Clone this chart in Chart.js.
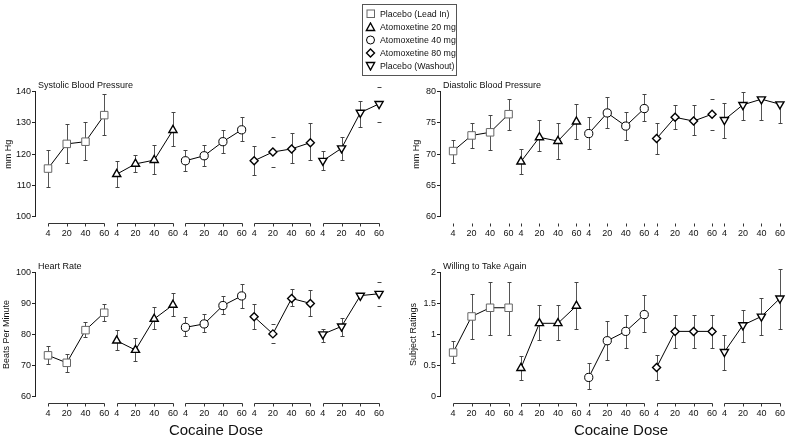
<!DOCTYPE html>
<html>
<head>
<meta charset="utf-8">
<script src="https://cdn.jsdelivr.net/npm/chart.js@4"></script>
<style>
  html, body { margin: 0; padding: 0; background: #fff; }
  body { width: 796px; height: 438px; position: relative; overflow: hidden; font-family: "Liberation Sans", Arial, sans-serif; }
  canvas { position: absolute; }
  #legend { position: absolute; left: 362px; top: 4px; width: 95px; height: 72px; border: 1px solid #555; box-sizing: border-box; }
  .li { position: absolute; left: 2px; height: 12px; font-size: 8.8px; color: #111; line-height: 12px; white-space: nowrap; }
  .li svg { position: absolute; left: 0; top: 1px; }
  .li span { position: absolute; left: 15px; top: 0; }
  .xt { position: absolute; font-size: 15px; color: #111; transform: translate(-50%, -50%); white-space: nowrap; }
</style>
</head>
<body>
<canvas id="c1" width="400" height="190" style="left:0;top:60px"></canvas>
<canvas id="c2" width="396" height="190" style="left:400px;top:60px"></canvas>
<canvas id="c3" width="400" height="198" style="left:0;top:240px"></canvas>
<canvas id="c4" width="396" height="198" style="left:400px;top:240px"></canvas>

<div id="legend">
  <div class="li" style="top:3px"><svg width="12" height="10"><rect x="2" y="1" width="7.5" height="7.5" fill="#fff" stroke="#666" stroke-width="1"/></svg><span>Placebo (Lead In)</span></div>
  <div class="li" style="top:16px"><svg width="12" height="10"><polygon points="5.5,1 9.6,8.5 1.4,8.5" fill="#fff" stroke="#000" stroke-width="1.4"/></svg><span>Atomoxetine 20 mg</span></div>
  <div class="li" style="top:29px"><svg width="12" height="10"><circle cx="5.5" cy="5" r="4" fill="#fff" stroke="#000" stroke-width="1"/></svg><span>Atomoxetine 40 mg</span></div>
  <div class="li" style="top:42px"><svg width="12" height="10"><polygon points="5.5,1 9.5,5 5.5,9 1.5,5" fill="#fff" stroke="#000" stroke-width="1.4"/></svg><span>Atomoxetine 80 mg</span></div>
  <div class="li" style="top:55px"><svg width="12" height="10"><polygon points="1.4,1.5 9.6,1.5 5.5,9" fill="#fff" stroke="#000" stroke-width="1.4"/></svg><span>Placebo (Washout)</span></div>
</div>

<div class="xt" style="left:216px;top:429px">Cocaine Dose</div>
<div class="xt" style="left:621px;top:429px">Cocaine Dose</div>

<script>
// ---------- data ----------
const groups = ['Placebo (Lead In)', 'Atomoxetine 20 mg', 'Atomoxetine 40 mg', 'Atomoxetine 80 mg', 'Placebo (Washout)'];
const doses = ['4', '20', '40', '60'];

const systolic   = [115.4, 123.3, 124.0, 132.5, 113.6, 116.9, 118.1, 127.7, 117.9, 119.5, 124.0, 127.8, 117.9, 120.7, 121.7, 123.7, 117.9, 121.9, 133.3, 136.1];
const systolicHi = [121.3, 129.6, 130.4, 139.2, 117.8, 119.7, 123.0, 133.4, 121.2, 123.0, 127.7, 131.8, 122.6, 125.6, 126.7, 129.9, 121.0, 125.6, 137.1, 141.6];
const systolicLo = [109.6, 117.1, 118.1, 126.0, 109.6, 114.3, 113.6, 122.6, 114.6, 116.3, 120.5, 124.2, 113.2, 115.9, 117.1, 118.1, 115.0, 118.1, 128.6, 130.4];

const diastolic   = [70.5, 73.0, 73.5, 76.4, 68.8, 72.7, 72.1, 75.2, 73.3, 76.6, 74.5, 77.3, 72.5, 75.9, 75.3, 76.4, 75.5, 77.9, 78.8, 78.0];
const diastolicHi = [72.3, 75.0, 76.2, 78.8, 70.9, 75.4, 75.0, 78.1, 75.9, 79.1, 76.7, 79.7, 75.0, 77.9, 77.9, 78.9, 78.2, 79.9, 78.8, 78.0];
const diastolicLo = [68.6, 71.0, 70.7, 73.9, 66.9, 70.5, 69.2, 72.4, 70.9, 74.2, 72.3, 75.3, 70.1, 74.0, 73.0, 73.9, 72.6, 75.4, 75.4, 75.0];

const heartRate   = [73.3, 70.9, 81.4, 87.0, 78.0, 75.0, 85.0, 89.5, 82.3, 83.4, 89.3, 92.4, 85.7, 80.2, 91.6, 90.0, 80.1, 82.6, 92.5, 93.1];
const heartRateHi = [76.4, 73.7, 84.1, 89.7, 81.3, 78.8, 88.8, 93.2, 85.6, 86.5, 92.3, 96.1, 89.7, 83.3, 94.5, 94.3, 81.9, 85.4, 92.5, 96.9];
const heartRateLo = [70.4, 67.9, 79.3, 84.3, 75.0, 71.6, 81.9, 86.0, 79.5, 80.7, 86.5, 88.5, 81.9, 77.2, 89.2, 86.0, 77.6, 79.5, 92.5, 89.2];

const willing   = [0.71, 1.29, 1.43, 1.43, 0.46, 1.18, 1.18, 1.46, 0.31, 0.90, 1.05, 1.32, 0.47, 1.05, 1.05, 1.05, 0.72, 1.15, 1.29, 1.58];
const willingHi = [0.90, 1.65, 1.85, 1.85, 0.66, 1.47, 1.47, 1.84, 0.54, 1.21, 1.31, 1.63, 0.67, 1.31, 1.31, 1.31, 1.00, 1.40, 1.58, 2.06];
const willingLo = [0.54, 0.92, 1.00, 1.00, 0.27, 0.91, 0.91, 1.09, 0.12, 0.59, 0.78, 1.04, 0.27, 0.78, 0.78, 0.78, 0.43, 0.88, 1.00, 1.09];

// error bars drawn with caps only (bar hidden) in the original
const systolicCapsOnly = [13, 19];
const diastolicCapsOnly = [15];
const heartRateCapsOnly = [13, 19];
const willingCapsOnly = [];

// ---------- layout helpers ----------
const GROUP_PITCH = 11 / 3;
const xPos = [];
groups.forEach((g, gi) => doses.forEach((d, di) => xPos.push(gi * GROUP_PITCH + di)));

const markerStyles = [
  { pointStyle: 'rect', radius: 5.3, rotation: 0, border: '#666', bw: 1 },
  { pointStyle: 'triangle', radius: 4.7, rotation: 0, border: '#000', bw: 1.4 },
  { pointStyle: 'circle', radius: 4.1, rotation: 0, border: '#000', bw: 1 },
  { pointStyle: 'rectRot', radius: 4.0, rotation: 0, border: '#000', bw: 1.4 },
  { pointStyle: 'triangle', radius: 4.7, rotation: 180, border: '#000', bw: 1.4 }
];

Chart.defaults.font.family = '"Liberation Sans", Arial, sans-serif';
Chart.defaults.color = '#111';

function makePanel(id, cfg) {
  const canvas = document.getElementById(id);
  const W = canvas.width, H = canvas.height;
  const datasets = groups.map((g, gi) => {
    const m = markerStyles[gi];
    return {
      label: g,
      data: doses.map((d, di) => ({ x: xPos[gi * 4 + di], y: cfg.values[gi * 4 + di] })),
      borderColor: '#000',
      borderWidth: 1,
      pointStyle: m.pointStyle,
      pointRadius: m.radius,
      pointRotation: m.rotation,
      pointBackgroundColor: '#fff',
      pointBorderColor: m.border,
      pointBorderWidth: m.bw,
      tension: 0,
      clip: false
    };
  });

  const plugin = {
    id: 'panelDeco',
    beforeDatasetsDraw(chart) {
      const { ctx, scales: { x, y } } = chart;
      ctx.save();
      ctx.lineWidth = 1;
      for (let k = 0; k < cfg.values.length; k++) {
        const px = Math.round(x.getPixelForValue(xPos[k])) + 0.5;
        const yv = y.getPixelForValue(cfg.values[k]);
        const yh = Math.round(y.getPixelForValue(cfg.hi[k])) + 0.5;
        const yl = Math.round(y.getPixelForValue(cfg.lo[k])) + 0.5;
        const capsOnly = cfg.capsOnly.includes(k);
        if (!capsOnly) {
          ctx.strokeStyle = '#555';
          ctx.beginPath();
          if (cfg.hi[k] > cfg.values[k]) { ctx.moveTo(px, yh); ctx.lineTo(px, yv); }
          if (cfg.lo[k] < cfg.values[k]) { ctx.moveTo(px, yv); ctx.lineTo(px, yl); }
          ctx.stroke();
        }
        ctx.strokeStyle = '#444';
        ctx.beginPath();
        if (cfg.hi[k] > cfg.values[k]) { ctx.moveTo(px - 2, yh); ctx.lineTo(px + 2, yh); }
        if (cfg.lo[k] < cfg.values[k]) { ctx.moveTo(px - 2, yl); ctx.lineTo(px + 2, yl); }
        ctx.stroke();
      }
      ctx.restore();
    },
    afterDraw(chart) {
      const { ctx, chartArea, scales: { x } } = chart;
      ctx.save();
      // group axes under each treatment
      const ly = Math.round(chartArea.bottom + 6.5) + 0.5;
      ctx.strokeStyle = '#333';
      ctx.lineWidth = 1;
      ctx.beginPath();
      groups.forEach((g, gi) => {
        const x0 = Math.round(x.getPixelForValue(xPos[gi * 4])) + 0.5;
        const x1 = Math.round(x.getPixelForValue(xPos[gi * 4 + 3])) + 0.5;
        if (cfg.axisLine) { ctx.moveTo(x0, ly); ctx.lineTo(x1, ly); }
        for (let di = 0; di < 4; di++) {
          const xp = Math.round(x.getPixelForValue(xPos[gi * 4 + di])) + 0.5;
          ctx.moveTo(xp, ly); ctx.lineTo(xp, ly + 3);
        }
      });
      ctx.stroke();
      // panel title
      ctx.fillStyle = '#111';
      ctx.font = '9px "Liberation Sans", Arial, sans-serif';
      ctx.textBaseline = 'middle';
      ctx.textAlign = 'left';
      ctx.fillText(cfg.title, chartArea.left + 3, chartArea.top - 6);
      ctx.restore();
    }
  };

  return new Chart(canvas, {
    type: 'line',
    data: { datasets },
    plugins: [plugin],
    options: {
      responsive: false,
      animation: false,
      events: [],
      layout: { padding: { left: 0, right: cfg.padRight, top: cfg.padTop, bottom: 0 } },
      plugins: { legend: { display: false }, tooltip: { enabled: false }, title: { display: false } },
      scales: {
        x: {
          type: 'linear',
          min: cfg.xMin,
          max: cfg.xMax,
          afterBuildTicks: (s) => { s.ticks = xPos.map(v => ({ value: v })); },
          afterFit: (s) => { s.height = H - cfg.padTop - cfg.areaH; },
          grid: { display: false, drawTicks: false },
          border: { display: false },
          ticks: {
            autoSkip: false, maxRotation: 0, minRotation: 0, padding: 11,
            color: '#111', font: { size: 9 },
            callback: (v, i) => doses[i % 4]
          }
        },
        y: {
          min: cfg.yMin,
          max: cfg.yMax,
          afterFit: (s) => { s.width = cfg.yWidth; },
          grid: { display: true, drawOnChartArea: false, drawTicks: true, tickLength: 3, color: '#222' },
          border: { display: true, color: '#222', width: 1 },
          ticks: { stepSize: cfg.step, padding: 1, color: '#111', font: { size: 9 }, callback: (v) => String(Math.round(v * 100) / 100) },
          title: { display: true, text: cfg.yTitle, color: '#111', font: { size: 9 }, padding: { top: cfg.yTitlePad, bottom: 0 } }
        }
      }
    }
  });
}

makePanel('c1', {
  title: 'Systolic Blood Pressure', yTitle: 'mm Hg', yTitlePad: 2.9,
  values: systolic, hi: systolicHi, lo: systolicLo, capsOnly: systolicCapsOnly,
  yMin: 100, yMax: 140, step: 10, axisLine: true,
  yWidth: 35, padRight: 10, padTop: 31.7, areaH: 125, xMin: -0.694, xMax: 18.25
});
makePanel('c2', {
  title: 'Diastolic Blood Pressure', yTitle: 'mm Hg', yTitlePad: 11.3,
  values: diastolic, hi: diastolicHi, lo: diastolicLo, capsOnly: diastolicCapsOnly,
  yMin: 60, yMax: 80, step: 5, axisLine: false,
  yWidth: 40, padRight: 6, padTop: 31.7, areaH: 125, xMin: -0.708, xMax: 17.93
});
makePanel('c3', {
  title: 'Heart Rate', yTitle: 'Beats Per Minute', yTitlePad: 1.6,
  values: heartRate, hi: heartRateHi, lo: heartRateLo, capsOnly: heartRateCapsOnly,
  yMin: 60, yMax: 100, step: 10, axisLine: true,
  yWidth: 35, padRight: 10, padTop: 32.3, areaH: 124.4, xMin: -0.694, xMax: 18.25
});
makePanel('c4', {
  title: 'Willing to Take Again', yTitle: 'Subject Ratings', yTitlePad: 7.9,
  values: willing, hi: willingHi, lo: willingLo, capsOnly: willingCapsOnly,
  yMin: 0, yMax: 2, step: 0.5, axisLine: true,
  yWidth: 40, padRight: 6, padTop: 32.3, areaH: 124.4, xMin: -0.708, xMax: 17.93
});
</script>
</body>
</html>
